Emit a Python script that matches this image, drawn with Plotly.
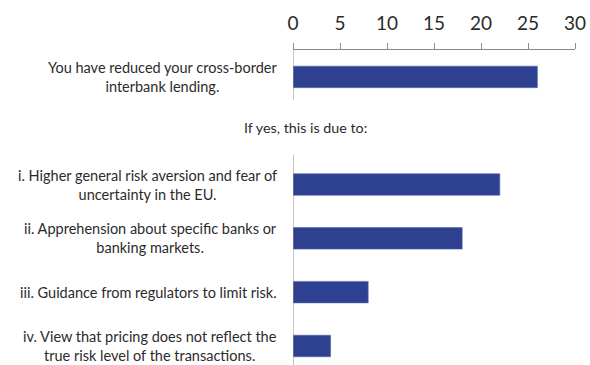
import plotly.graph_objects as go

# Survey responses (number of banks)
labels = [
    "You have reduced your cross-border<br>interbank lending.",
    "",
    "i. Higher general risk aversion and fear of<br>uncertainty in the EU.",
    "ii. Apprehension about specific banks or<br>banking markets.",
    "iii. Guidance from regulators to limit risk.",
    "iv. View that pricing does not reflect the<br>true risk level of the transactions.",
]
values = [26, None, 22, 18, 8, 4]
section_note = "If yes, this is due to:"
x_ticks = [0, 5, 10, 15, 20, 25, 30]

BAR = "#2E4191"
AXIS = "#8C8C8C"
TEXT = "#2b2b2b"
FONT = "Lato"

pos = list(range(len(labels)))
bar_pos = [p for p, v in zip(pos, values) if v is not None]
bar_val = [v for v in values if v is not None]

fig = go.Figure(go.Bar(
    x=bar_val, y=bar_pos, orientation="h", width=0.4,
    marker=dict(color=BAR, line=dict(color="#5566aa", width=0.6)),
    hoverinfo="skip",
))

# Category labels, centred per line, to the left of the axis
for p, lab in zip(pos, labels):
    if lab:
        fig.add_annotation(
            x=0, y=p, xref="x", yref="y", text=lab, showarrow=False,
            xanchor="right", yanchor="middle", align="center", xshift=-14,
            font=dict(family=FONT, size=14.5, color=TEXT),
        )

# Section heading in the empty slot
fig.add_annotation(
    x=1.3, y=1, xref="x", yref="y", text=section_note, showarrow=False,
    xanchor="center", yanchor="middle", yshift=3,
    font=dict(family=FONT, size=14.3, color=TEXT),
)

# Vertical category axis, broken around the heading slot
shapes = []
segments = [(-0.5, 0.43), (1.45, 5.6)]
for y0, y1 in segments:
    shapes.append(dict(type="line", xref="x", yref="y", x0=0, x1=0, y0=y0, y1=y1,
                       line=dict(color=AXIS, width=1)))
for t in [-0.5, 1.45, 2.5, 3.47, 4.47]:
    shapes.append(dict(type="line", xref="x", yref="y", xsizemode="pixel", xanchor=0,
                       x0=-6, x1=0, y0=t, y1=t, line=dict(color=AXIS, width=1)))

fig.update_layout(
    width=590, height=365,
    margin=dict(l=293, r=15, t=50, b=0),
    paper_bgcolor="white", plot_bgcolor="white",
    showlegend=False,
    shapes=shapes,
    xaxis=dict(
        side="top", range=[0, 30], tickvals=x_ticks, ticktext=[str(v) for v in x_ticks],
        showline=True, linecolor=AXIS, linewidth=1,
        ticks="outside", ticklen=6, tickcolor=AXIS, tickwidth=1,
        showgrid=False, zeroline=False, ticklabelstandoff=5,
        tickfont=dict(family=FONT, size=19, color=TEXT),
    ),
    yaxis=dict(
        range=[5.354, -0.5], showticklabels=False, showline=False,
        showgrid=False, zeroline=False, ticks="",
    ),
)

fig.write_html("out.html")
